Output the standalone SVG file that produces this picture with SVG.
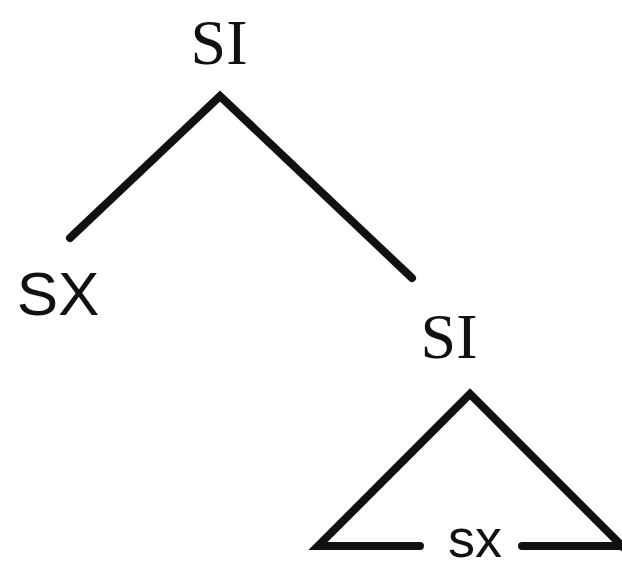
<svg xmlns="http://www.w3.org/2000/svg" width="622" height="569" viewBox="0 0 622 569">
<style>
.serif{font-family:"Liberation Serif","Times New Roman",serif;fill:#111}
.sans{font-family:"Liberation Sans",Arial,sans-serif;fill:#111}
.e{fill:none;stroke:#111;stroke-width:8;stroke-linecap:round;stroke-linejoin:miter}
</style>
<rect width="622" height="569" fill="#fff"/>
<g id="edges">
<polyline class="e" points="70,238 220,96 412,278"/>
<polyline class="e" points="420,546 318,546 470,394 624,548"/>
<line class="e" x1="522" y1="546" x2="624" y2="546"/>
</g>
<g id="root"><text class="serif" x="219" y="64" font-size="64" text-anchor="middle">SI</text></g>
<g id="sx1"><text class="sans" x="58" y="315" font-size="62" text-anchor="middle">SX</text></g>
<g id="si2"><text class="serif" x="449" y="358" font-size="64" text-anchor="middle">SI</text></g>
<g id="sx2"><text class="sans" x="475" y="557" font-size="54" text-anchor="middle">sx</text></g>
</svg>
